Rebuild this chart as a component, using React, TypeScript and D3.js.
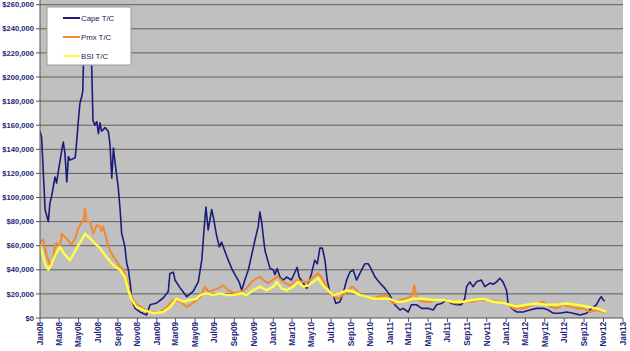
import React from "react";
import * as d3 from "d3";

// [months since Jan 2008, value in $ thousands]
const capeSeries: [number, number][] = [
  [0, 155], [0.15, 150], [0.51, 90], [0.85, 80], [1.03, 95], [1.2, 102], [1.54, 117], [1.72, 112],
  [1.88, 121], [2.23, 139], [2.4, 146], [2.57, 137], [2.75, 113], [2.91, 134], [3.09, 131], [3.6, 133],
  [3.7, 140], [3.91, 160], [4.12, 178], [4.29, 184], [4.39, 188], [4.46, 209], [4.73, 225], [4.94, 234],
  [5.15, 225], [5.32, 209], [5.45, 164], [5.66, 160], [5.84, 163], [6.0, 153], [6.17, 162], [6.35, 155],
  [6.69, 158], [7.03, 155], [7.2, 145], [7.38, 116], [7.54, 141], [7.82, 123], [8.06, 109], [8.23, 90],
  [8.41, 70], [8.57, 65], [8.75, 59], [8.92, 45], [9.09, 40], [9.33, 26], [9.44, 15], [9.78, 8],
  [10.29, 5], [10.98, 2.5], [11.32, 11], [12.01, 12.5], [12.69, 16.6], [13.2, 22], [13.38, 37], [13.72, 38],
  [13.89, 31.5], [14.41, 25], [15.1, 17.7], [15.78, 22], [16.29, 30], [16.64, 48], [16.88, 73], [17.08, 92],
  [17.32, 73], [17.67, 90], [17.84, 84], [18.18, 69], [18.45, 59], [18.7, 63], [19.04, 55], [19.38, 48],
  [19.73, 41], [20.07, 36], [20.51, 30], [20.76, 23], [21.1, 31.5], [21.44, 40], [21.79, 52], [22.13, 65],
  [22.47, 76], [22.64, 88], [22.82, 79], [22.98, 67], [23.16, 56], [23.39, 49.5], [23.67, 41], [24.01, 40],
  [24.18, 36], [24.42, 41], [24.7, 34], [25.04, 31.5], [25.39, 34], [25.9, 31.5], [26.24, 38], [26.48, 42],
  [26.69, 34], [27.1, 29], [27.45, 24.6], [27.96, 37], [28.3, 48], [28.54, 45], [28.82, 58], [29.09, 58],
  [29.33, 48], [29.57, 31.5], [29.84, 22], [30.18, 19], [30.46, 12], [30.87, 13.5], [31.21, 20.5], [31.56, 31.5],
  [31.9, 38], [32.24, 40], [32.59, 31.5], [33.11, 40], [33.45, 45], [33.79, 45], [34.14, 40], [34.48, 34],
  [34.99, 29], [35.5, 24.6], [36.02, 19], [36.53, 11], [37.05, 6.6], [37.39, 8], [37.9, 5], [38.25, 11],
  [38.77, 11], [39.28, 8], [39.96, 8], [40.48, 6.6], [40.83, 11], [41.34, 12], [41.86, 15], [42.37, 12],
  [42.88, 11], [43.4, 11], [43.74, 16], [43.91, 26], [44.25, 30], [44.59, 26], [44.94, 30], [45.45, 31.5],
  [45.79, 26], [46.31, 29], [46.65, 28], [47.0, 30], [47.34, 33], [47.68, 30], [48.03, 23], [48.19, 12],
  [48.54, 8], [49.06, 5], [49.74, 5], [50.43, 6.6], [51.12, 8], [51.81, 8], [52.32, 6.6], [52.83, 4],
  [53.52, 4], [54.21, 5], [54.89, 4], [55.57, 2.5], [56.26, 4], [56.78, 8], [57.29, 11], [57.63, 16],
  [57.8, 17.7], [57.97, 15], [58.15, 14],
];

const pmxSeries: [number, number][] = [
  [0, 63], [0.34, 65], [0.69, 52], [1.03, 44.5], [1.31, 46], [1.54, 60], [1.72, 62], [1.88, 60.6],
  [2.06, 59], [2.23, 70], [2.34, 69], [2.75, 65.5], [3.26, 61], [3.6, 66], [3.78, 70], [3.84, 73],
  [4.12, 77], [4.29, 79], [4.46, 81], [4.63, 91], [4.81, 80], [5.15, 80], [5.49, 70], [5.84, 77],
  [6.17, 76], [6.35, 72], [6.51, 76], [6.86, 65], [7.2, 56], [7.54, 51], [7.89, 47], [8.23, 42.6],
  [8.57, 40], [8.92, 31.5], [9.26, 20.5], [9.6, 15], [9.95, 11], [10.63, 8], [11.32, 5], [12.35, 5],
  [13.04, 9], [13.72, 15], [14.41, 14], [15.1, 9], [15.78, 12.5], [16.47, 17], [16.98, 26], [17.32, 22],
  [17.84, 23], [18.35, 24.6], [18.86, 27], [19.38, 23], [20.07, 20.5], [20.76, 22], [21.27, 24.6], [21.79, 30],
  [22.3, 33], [22.64, 34], [22.98, 31.5], [23.49, 29], [24.18, 33], [24.52, 34], [25.04, 30], [25.73, 27],
  [26.42, 31.5], [26.93, 30], [27.61, 30], [28.13, 34], [28.64, 37], [28.99, 34], [29.5, 26], [30.02, 19],
  [30.7, 16], [31.39, 20.5], [32.08, 26], [32.42, 24.6], [32.93, 19], [33.62, 17.7], [34.3, 16], [34.99, 18],
  [35.68, 19], [36.36, 12], [37.05, 15], [37.74, 16], [38.36, 19], [38.52, 27], [38.77, 16], [39.45, 13.5],
  [40.14, 13.5], [40.83, 15], [41.51, 15], [42.19, 13.5], [42.88, 12], [43.56, 13.5], [44.25, 13.5], [45.28, 15],
  [46.31, 15], [47.34, 13.5], [48.03, 12], [48.71, 8], [49.74, 8], [50.77, 11], [51.81, 13.5], [52.49, 9.5],
  [53.18, 8], [53.86, 11], [54.54, 9.5], [55.23, 8], [55.91, 8], [56.6, 5], [57.29, 6.6], [57.97, 5],
  [58.32, 5],
];

const bsiSeries: [number, number][] = [
  [0, 60.6], [0.51, 45], [0.85, 40], [1.2, 45], [1.54, 52], [2.06, 59], [2.4, 54], [3.09, 48],
  [3.78, 58], [4.29, 65], [4.63, 70], [5.15, 66], [5.66, 62], [6.17, 58], [6.69, 52], [7.2, 47],
  [7.72, 42.6], [8.23, 40], [8.75, 34], [9.09, 23], [9.44, 15], [9.95, 9], [10.63, 6.6], [11.66, 4],
  [12.69, 5], [13.38, 9], [14.07, 16], [14.75, 13.5], [15.44, 15], [16.13, 16], [16.47, 19], [17.16, 20.5],
  [17.84, 19], [18.52, 20.5], [19.21, 19], [19.89, 19], [20.76, 20.5], [21.27, 19], [21.95, 23], [22.64, 26],
  [23.33, 23], [24.01, 26], [24.36, 30], [24.87, 24.6], [25.39, 23], [26.07, 26], [26.58, 30], [27.1, 26],
  [27.61, 27], [28.13, 30], [28.64, 33], [29.15, 27], [29.67, 23], [30.18, 19], [30.87, 20.5], [31.56, 23],
  [32.24, 22], [32.93, 19], [33.62, 17.7], [34.3, 16], [34.99, 16], [36.02, 16], [36.71, 13.5], [37.39, 13.5],
  [38.42, 16], [39.45, 16], [40.48, 15], [41.51, 15], [42.53, 13.5], [43.56, 13.5], [44.56, 15], [45.62, 16],
  [46.65, 13.5], [47.68, 12.5], [48.37, 11], [49.06, 9.5], [50.09, 11], [51.12, 12], [52.14, 11], [53.18, 11],
  [54.21, 12], [55.23, 11], [56.26, 9.5], [57.29, 8], [58.32, 5],
];

const seriesNames = ["Cape T/C", "Pmx T/C", "BSI T/C"];
const seriesColors = ["#1c1c7e", "#f08a34", "#ffff40"];
const seriesWidths = [1.6, 2.1, 2.4];
const yTickValues = [0, 20000, 40000, 60000, 80000, 100000, 120000, 140000, 160000, 180000, 200000, 220000, 240000, 260000];

const W = 630;
const H = 351;
const left = 40;
const right = 623;
const bottom = 318;
const top = 4.7;

function monthsToDate(m: number): Date {
  return new Date(2008, 0, 1 + Math.round(m * 30.44));
}

export default function App() {
  const x = d3.scaleTime().domain([new Date(2008, 0, 1), new Date(2013, 0, 1)]).range([left, right]);
  const y = d3.scaleLinear().domain([0, 260000]).range([bottom, top]);
  const xTicks = d3.timeMonth.every(2)!.range(new Date(2008, 0, 1), new Date(2013, 0, 2));
  const fmt = d3.timeFormat("%b%y");
  const money = (v: number) => "$" + d3.format(",")(v);

  const line = d3
    .line<[number, number]>()
    .x((d) => x(monthsToDate(d[0])))
    .y((d) => y(d[1] * 1000));

  const allSeries = [capeSeries, pmxSeries, bsiSeries];

  return (
    <svg width={W} height={H} style={{ position: "absolute", left: 0, top: 0, background: "#fff" }}>
      <defs>
        <clipPath id="plotclip">
          <rect x={left} y={0} width={right - left} height={bottom} />
        </clipPath>
      </defs>
      <rect x={left} y={0} width={right - left} height={bottom} fill="#c0c0c0" />
      {yTickValues.map((v) => (
        <g key={v}>
          {v > 0 && <line x1={left} x2={right} y1={y(v)} y2={y(v)} stroke="#5e5e5e" strokeWidth={1} />}
          <line x1={left - 4} x2={left} y1={y(v)} y2={y(v)} stroke="#555" />
          <text
            x={34}
            y={y(v)}
            dy="0.35em"
            textAnchor="end"
            fontFamily="Arial, 'Liberation Sans', sans-serif"
            fontSize={7.6}
            fontWeight="bold"
            fill="#26267a"
          >
            {money(v)}
          </text>
        </g>
      ))}
      <g clipPath="url(#plotclip)">
        {allSeries.map((s, i) => (
          <path
            key={seriesNames[i]}
            d={line(s) || ""}
            fill="none"
            stroke={seriesColors[i]}
            strokeWidth={seriesWidths[i]}
            strokeLinejoin="round"
          />
        ))}
      </g>
      <line x1={left} x2={left} y1={0} y2={bottom} stroke="#555" />
      <line x1={left} x2={right} y1={bottom} y2={bottom} stroke="#555" />
      {xTicks.map((d) => (
        <g key={d.getTime()}>
          <line x1={x(d)} x2={x(d)} y1={bottom} y2={bottom + 4} stroke="#555" />
          <text
            transform={`translate(${x(d)},${bottom + 4}) rotate(-90)`}
            dy="0.35em"
            textAnchor="end"
            fontFamily="Arial, 'Liberation Sans', sans-serif"
            fontSize={8.2}
            fontWeight="bold"
            fill="#26267a"
          >
            {fmt(d)}
          </text>
        </g>
      ))}
      <rect x={47} y={7} width={84} height={58} fill="#fff" stroke="#9a9a9a" strokeWidth={1} />
      {seriesNames.map((n, i) => (
        <g key={n}>
          <line x1={63} x2={80} y1={18 + i * 19} y2={18 + i * 19} stroke={seriesColors[i]} strokeWidth={2} />
          <text
            x={81}
            y={18 + i * 19}
            dy="0.35em"
            fontFamily="Arial, 'Liberation Sans', sans-serif"
            fontSize={7.8}
            fill="#22224a"
          >
            {n}
          </text>
        </g>
      ))}
    </svg>
  );
}
